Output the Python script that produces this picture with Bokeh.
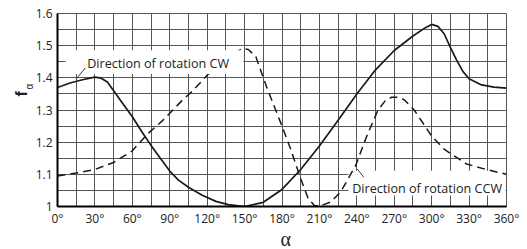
from bokeh.plotting import figure
from bokeh.models import FixedTicker, Label, Title
from bokeh.embed import file_html
from bokeh.resources import INLINE

# ---- data ----
x_ticks = [0, 30, 60, 90, 120, 150, 180, 210, 240, 270, 300, 330, 360]
x_tick_labels = ["0°", "30°", "60°", "90°", "120°", "150°", "180°", "210°",
                 "240°", "270°", "300°", "330°", "360°"]
y_ticks = [1.0, 1.1, 1.2, 1.3, 1.4, 1.5, 1.6]
y_tick_labels = ["1", "1.1", "1.2", "1.3", "1.4", "1.5", "1.6"]
x_grid = [0, 15, 30, 45, 60, 75, 90, 105, 120, 135, 150, 165, 180, 195, 210,
          225, 240, 255, 270, 285, 300, 315, 330, 345, 360]
y_grid = [1.0, 1.05, 1.1, 1.15, 1.2, 1.25, 1.3, 1.35, 1.4, 1.45, 1.5, 1.55, 1.6]

# Direction of rotation CW (solid)
cw_angle = [0, 10, 20, 30, 35, 40, 45, 52, 60, 68, 75, 82, 90, 97, 105, 116,
            127, 137, 150, 165, 180, 195, 210, 225, 240, 255, 270, 285, 295,
            300, 305, 310, 315, 320, 325, 330, 340, 350, 360]
cw_f = [1.370, 1.384, 1.394, 1.402, 1.399, 1.387, 1.360, 1.322, 1.279, 1.230,
        1.190, 1.152, 1.110, 1.082, 1.060, 1.035, 1.016, 1.006, 1.000, 1.013,
        1.053, 1.115, 1.188, 1.268, 1.350, 1.425, 1.485, 1.530, 1.556, 1.566,
        1.560, 1.537, 1.495, 1.455, 1.420, 1.397, 1.378, 1.371, 1.368]

# Direction of rotation CCW (dashed)
ccw_angle = [0, 15, 30, 45, 60, 72, 84, 90, 100, 108, 120, 130, 140, 148, 153,
             159, 168, 179, 187, 195, 201, 206, 211, 219, 227, 239, 248, 257,
             263, 268, 272, 278, 286, 300, 310, 328, 342, 360]
ccw_f = [1.095, 1.104, 1.115, 1.137, 1.173, 1.225, 1.266, 1.290, 1.330, 1.358,
         1.408, 1.440, 1.470, 1.491, 1.488, 1.466, 1.368, 1.260, 1.178, 1.086,
         1.025, 1.003, 1.002, 1.014, 1.045, 1.127, 1.219, 1.300, 1.330, 1.340,
         1.340, 1.332, 1.300, 1.219, 1.178, 1.132, 1.117, 1.100]

FONT = "Open Sans"
TXT = "#222222"
GRID = "#555555"

p = figure(width=527, height=249, x_range=(0, 360), y_range=(1.0, 1.6),
           output_backend="svg", toolbar_location=None,
           min_border_left=57, min_border_right=21,
           min_border_top=13, min_border_bottom=41)
p.background_fill_color = "white"
p.border_fill_color = "white"
p.outline_line_color = GRID

for ax in (p.xaxis, p.yaxis):
    ax.axis_line_color = "black"
    ax.axis_line_width = 2
    ax.major_tick_line_color = None
    ax.minor_tick_line_color = None
    ax.major_tick_out = 0
    ax.major_tick_in = 0
    ax.minor_tick_out = 0
    ax.minor_tick_in = 0
    ax.major_label_text_font = FONT
    ax.major_label_text_font_size = "12px"
    ax.major_label_text_color = TXT

p.xaxis.ticker = FixedTicker(ticks=x_ticks)
p.xaxis.major_label_overrides = {t: l for t, l in zip(x_ticks, x_tick_labels)}
p.xaxis.major_label_standoff = 3

p.yaxis.ticker = FixedTicker(ticks=y_ticks)
p.yaxis.major_label_overrides = {t: l for t, l in zip(y_ticks, y_tick_labels)}
p.yaxis.major_label_standoff = 5

p.xgrid.ticker = FixedTicker(ticks=x_grid)
p.ygrid.ticker = FixedTicker(ticks=y_grid)
for g in (p.xgrid, p.ygrid):
    g.grid_line_color = GRID
    g.grid_line_width = 1

# x axis title
p.add_layout(Title(text="α", text_font="Liberation Serif", text_font_size="20px",
                   text_font_style="normal", text_color=TXT,
                   align="left", vertical_align="top", offset=223,
                   standoff=-4), "below")

# y axis title: bold f with subscript alpha
p.add_layout(Title(text="α", text_font="Liberation Sans", text_font_size="10px",
                   text_font_style="normal", text_color=TXT,
                   align="left", offset=117, standoff=-5), "left")
p.add_layout(Title(text="f", text_font="Liberation Sans", text_font_size="16px",
                   text_font_style="bold", text_color=TXT,
                   align="left", offset=110, standoff=-10), "left")

# CCW label box (beneath the curves)
p.quad(left=[233.3], right=[359.2], bottom=[1.034], top=[1.111],
       fill_color="white", line_color=None)

p.line(cw_angle, cw_f, line_color="#1a1a1a", line_width=1.7)
p.line(ccw_angle, ccw_f, line_color="#1a1a1a", line_width=1.5, line_dash="8 5")

# CW label box (above the curves)
p.quad(left=[6.4], right=[149.0], bottom=[1.412], top=[1.486],
       fill_color="white", line_color=None)

# leader lines
p.line([22.4, 15.0], [1.431, 1.397], line_color=TXT, line_width=0.9)
p.line([245.6, 240.3], [1.091, 1.117], line_color=TXT, line_width=0.9)

p.add_layout(Label(x=23.8, y=1.445, text="Direction of rotation CW",
                   text_font=FONT, text_font_size="12.6px", text_color=TXT,
                   text_baseline="alphabetic", text_align="left"))
p.add_layout(Label(x=236.3, y=1.0575, text="Direction of rotation CCW",
                   text_font=FONT, text_font_size="12.6px", text_color=TXT,
                   text_baseline="alphabetic", text_align="left"))

open("out.html", "w").write(file_html(p, INLINE))
